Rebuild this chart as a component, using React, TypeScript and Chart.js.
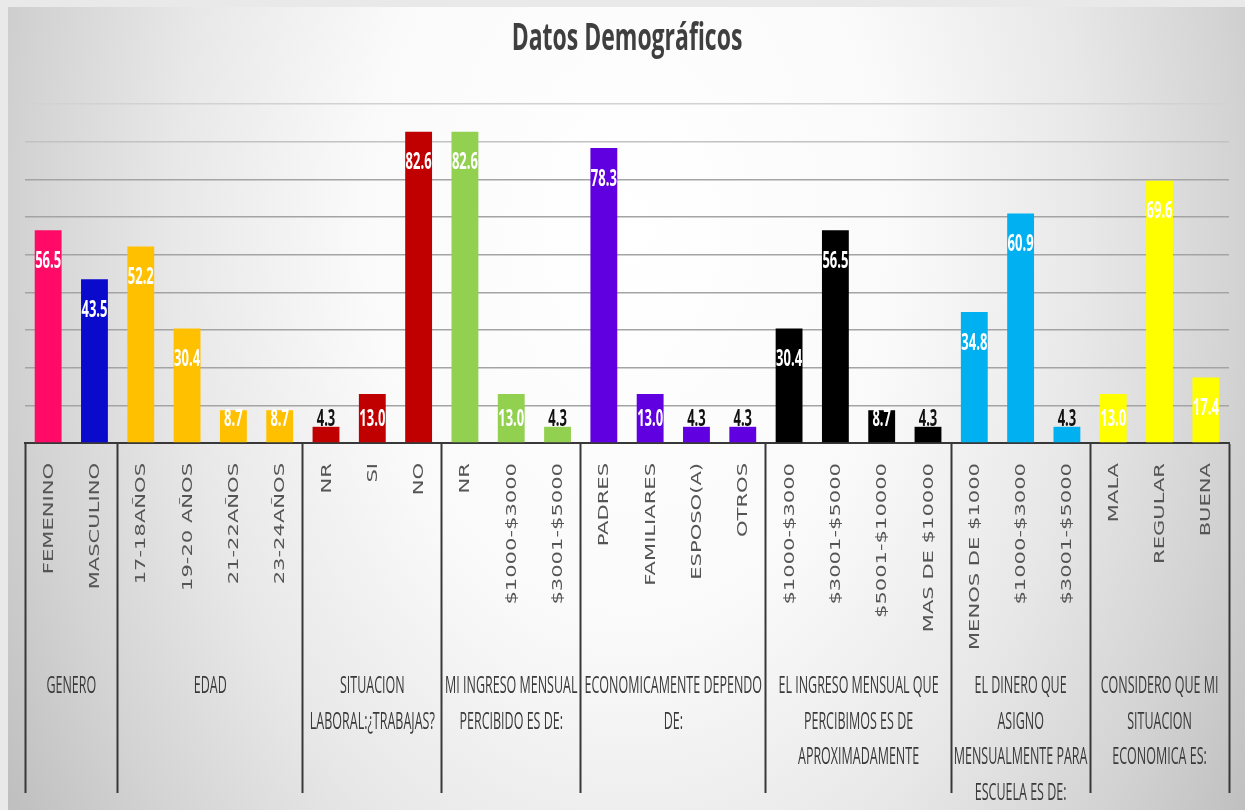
import React, { useEffect, useRef } from "react";
import { Chart, registerables } from "chart.js";

Chart.register(...registerables);

const TITLE = "Datos Demográficos";

const categories = [
  "FEMENINO", "MASCULINO",
  "17-18AÑOS", "19-20 AÑOS", "21-22AÑOS", "23-24AÑOS",
  "NR", "SI", "NO",
  "NR", "$1000-$3000", "$3001-$5000",
  "PADRES", "FAMILIARES", "ESPOSO(A)", "OTROS",
  "$1000-$3000", "$3001-$5000", "$5001-$10000", "MAS DE $10000",
  "MENOS DE $1000", "$1000-$3000", "$3001-$5000",
  "MALA", "REGULAR", "BUENA",
];

const values = [
  56.5, 43.5,
  52.2, 30.4, 8.7, 8.7,
  4.3, 13.0, 82.6,
  82.6, 13.0, 4.3,
  78.3, 13.0, 4.3, 4.3,
  30.4, 56.5, 8.7, 4.3,
  34.8, 60.9, 4.3,
  13.0, 69.6, 17.4,
];

const groupSizes = [2, 4, 3, 3, 4, 4, 3, 3];

const groupLabels = [
  ["GENERO"],
  ["EDAD"],
  ["SITUACION", "LABORAL:¿TRABAJAS?"],
  ["MI INGRESO MENSUAL", "PERCIBIDO ES DE:"],
  ["ECONOMICAMENTE DEPENDO", "DE:"],
  ["EL INGRESO MENSUAL QUE", "PERCIBIMOS ES DE", "APROXIMADAMENTE"],
  ["EL DINERO QUE", "ASIGNO", "MENSUALMENTE PARA", "ESCUELA ES DE:"],
  ["CONSIDERO QUE MI", "SITUACION", "ECONOMICA ES:"],
];

const barColors = [
  "#FF0A66", "#0A0ACC",
  "#FFC000", "#FFC000", "#FFC000", "#FFC000",
  "#C00000", "#C00000", "#C00000",
  "#92D050", "#92D050", "#92D050",
  "#6000E0", "#6000E0", "#6000E0", "#6000E0",
  "#000000", "#000000", "#000000", "#000000",
  "#00B0F0", "#00B0F0", "#00B0F0",
  "#FFFF00", "#FFFF00", "#FFFF00",
];

const Y_MIN = 0;
const Y_MAX = 90;
const Y_STEP = 10;

// indices of group boundaries
const boundaryIdx: number[] = [];
{
  let acc = 0;
  for (const s of groupSizes) {
    boundaryIdx.push(acc);
    acc += s;
  }
  boundaryIdx.push(acc);
}

const bgPlugin = {
  id: "bgPlugin",
  beforeDraw(chart: any) {
    const ctx = chart.ctx as CanvasRenderingContext2D;
    const w = chart.width;
    const h = chart.height;
    ctx.save();
    ctx.fillStyle = "#e9e9e9";
    ctx.fillRect(0, 0, w, h);
    ctx.beginPath();
    ctx.rect(8, 7, w - 8, h - 7);
    ctx.clip();
    ctx.translate(630, 230);
    ctx.scale(1, 1.5);
    const g = ctx.createRadialGradient(0, 0, 0, 0, 0, 760);
    g.addColorStop(0, "#ffffff");
    g.addColorStop(0.35, "#fafafa");
    g.addColorStop(0.6, "#e8e8e8");
    g.addColorStop(0.8, "#d3d3d3");
    g.addColorStop(1, "#bababa");
    ctx.fillStyle = g;
    ctx.fillRect(-2000, -2000, 4000, 4000);
    ctx.restore();
  },
};

const dataLabelPlugin = {
  id: "dataLabelPlugin",
  afterDatasetsDraw(chart: any) {
    const ctx = chart.ctx as CanvasRenderingContext2D;
    const meta = chart.getDatasetMeta(0);
    const yScale = chart.scales.y;
    const base = yScale.getPixelForValue(0);
    const capH = 13 * 0.714 * 1.85;
    ctx.save();
    ctx.font = "bold 13px 'Open Sans'";
    ctx.textAlign = "center";
    ctx.textBaseline = "alphabetic";
    meta.data.forEach((el: any, i: number) => {
      const top = el.y;
      const cy = Math.min(top + 29, base - 26);
      const inside = cy >= top;
      ctx.fillStyle = inside ? "#ffffff" : "#111111";
      ctx.save();
      ctx.translate(el.x, cy + capH / 2);
      ctx.scale(1, 1.85);
      ctx.fillText(values[i].toFixed(1), 0, 0);
      ctx.restore();
    });
    ctx.restore();
  },
};

const textPlugin = {
  id: "textPlugin",
  afterDraw(chart: any) {
    const ctx = chart.ctx as CanvasRenderingContext2D;
    const x = chart.scales.x;
    const area = chart.chartArea;
    ctx.save();

    // Title
    ctx.fillStyle = "#3f3f3f";
    ctx.font = "bold 23px 'Open Sans'";
    ctx.textAlign = "center";
    ctx.textBaseline = "alphabetic";
    ctx.save();
    ctx.translate((area.left + area.right) / 2, 50);
    ctx.scale(1, 1.65);
    ctx.fillText(TITLE, 0, 0);
    ctx.restore();

    // Category labels (rotated)
    ctx.fillStyle = "#555555";
    ctx.font = "13.5px 'DejaVu Sans'";
    ctx.textAlign = "right";
    ctx.textBaseline = "middle";
    categories.forEach((lab, i) => {
      const px = x.getPixelForValue(i);
      ctx.save();
      ctx.translate(px + 1, x.top + 20);
      ctx.rotate(-Math.PI / 2);
      ctx.scale(1.56, 1);
      ctx.fillText(lab, 0, 0);
      ctx.restore();
    });

    // Group labels
    const catW = x.getPixelForValue(1) - x.getPixelForValue(0);
    ctx.fillStyle = "#3a3a3a";
    ctx.font = "12.5px 'Open Sans'";
    ctx.textAlign = "center";
    ctx.textBaseline = "alphabetic";
    const capH = 12.5 * 0.714 * 1.85;
    groupLabels.forEach((lines, gi) => {
      const l = x.getPixelForValue(boundaryIdx[gi]) - catW / 2;
      const r = x.getPixelForValue(boundaryIdx[gi + 1] - 1) + catW / 2;
      const cx = (l + r) / 2;
      lines.forEach((ln, li) => {
        const cy = x.top + 242 + li * 35.5;
        ctx.save();
        ctx.translate(cx, cy + capH / 2);
        ctx.scale(1, 1.85);
        ctx.fillText(ln, 0, 0);
        ctx.restore();
      });
    });

    ctx.restore();
  },
};

export default function App() {
  const ref = useRef<HTMLCanvasElement | null>(null);

  useEffect(() => {
    if (!ref.current) return;
    const chart = new Chart(ref.current, {
      type: "bar",
      data: {
        labels: categories,
        datasets: [
          {
            data: values,
            backgroundColor: barColors,
            borderWidth: 0,
            barPercentage: 0.58,
            categoryPercentage: 1.0,
          },
        ],
      },
      options: {
        animation: false,
        responsive: false,
        devicePixelRatio: 1,
        layout: { padding: { left: 25, right: 16, top: 104, bottom: 0 } },
        plugins: {
          legend: { display: false },
          title: { display: false },
          tooltip: { enabled: false },
        },
        scales: {
          x: {
            type: "category",
            offset: true,
            grid: {
              display: true,
              offset: true,
              drawOnChartArea: false,
              drawTicks: true,
              tickLength: 350,
              tickWidth: 2,
              tickColor: (c: any) =>
                c.index === undefined || boundaryIdx.includes(c.index)
                  ? "#383838"
                  : "rgba(0,0,0,0)",
            },
            border: { display: true, color: "#383838", width: 2 },
            ticks: { display: false, autoSkip: false },
            afterFit: (s: any) => {
              s.height = 367;
            },
          },
          y: {
            min: Y_MIN,
            max: Y_MAX,
            ticks: { display: false, stepSize: Y_STEP },
            grid: {
              drawTicks: false,
              lineWidth: 1.5,
              color: (c: any) => {
                const v = c.tick ? c.tick.value : 0;
                if (v >= 90) return "#d2d2d2";
                if (v >= 80) return "#c2c2c2";
                return "#a4a4a4";
              },
            },
            border: { display: false },
          },
        },
      },
      plugins: [bgPlugin, dataLabelPlugin, textPlugin],
    });
    return () => chart.destroy();
  }, []);

  return (
    <div style={{ position: "absolute", left: 0, top: 0, width: 1245, height: 810 }}>
      <canvas ref={ref} width={1245} height={810} style={{ display: "block" }} />
    </div>
  );
}
